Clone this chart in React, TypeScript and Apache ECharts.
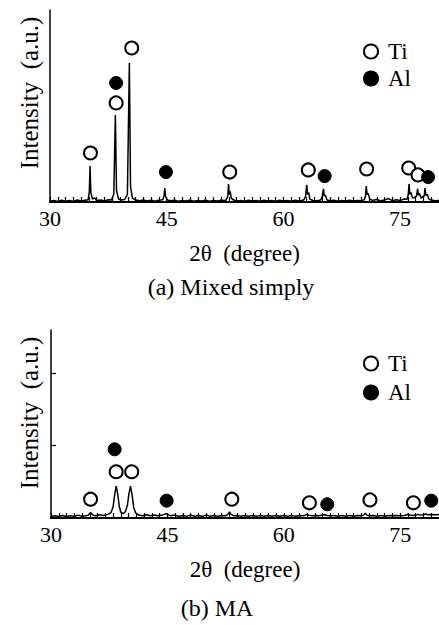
import React, { useEffect, useRef } from "react";
import * as echarts from "echarts";

const FONT = "Liberation Serif";

// x-axis labels and ticks (2θ, degree)
const xLabelValues = [30, 45, 60, 75];
const xTickValues = [
  30, 31, 32, 33, 34, 35, 36, 37, 38, 39, 40, 41, 42, 43, 44, 45, 46, 47, 48, 49, 50, 51, 52, 53, 54,
  55, 56, 57, 58, 59, 60, 61, 62, 63, 64, 65, 66, 67, 68, 69, 70, 71, 72, 73, 74, 75, 76, 77, 78, 79,
];
const xAxisName = "2θ  (degree)";
const yAxisName = "Intensity  (a.u.)";
const captionA = "(a) Mixed simply";
const captionB = "(b) MA";
const legendNames = ["Ti", "Al"];

// (a) Mixed simply — diffraction profile [2θ, intensity a.u. 0-100]
const profileA: number[][] = [
  [30, 0.4], [30.5, 0.8], [31, 0.3], [31.5, 0.9], [32, 0.4], [32.5, 0.8], [33, 0.3], [33.5, 1.0],
  [34, 0.5], [34.5, 0.9], [34.9, 1.2], [35.05, 5], [35.15, 18.8], [35.25, 5], [35.45, 1.5], [35.7, 2.2],
  [36, 0.8], [36.5, 1.0], [37, 0.5], [37.5, 1.2], [37.9, 1.0], [38.2, 4], [38.4, 45.3], [38.55, 6],
  [38.8, 1.6], [39.2, 1.0], [39.6, 1.3], [39.95, 4], [40.2, 72.4], [40.35, 8], [40.6, 2.0], [41, 1.0],
  [41.5, 0.6], [42, 1.0], [42.5, 0.5], [43, 0.9], [43.5, 0.4], [44, 0.9], [44.5, 1.2], [44.65, 3],
  [44.75, 7.3], [44.85, 3], [45.1, 1.0], [45.5, 0.6], [46, 0.9], [46.5, 0.4], [47, 0.8], [47.5, 0.5],
  [48, 0.9], [48.5, 0.4], [49, 0.8], [49.5, 0.5], [50, 0.9], [50.5, 0.4], [51, 0.8], [51.5, 0.5],
  [52, 0.9], [52.6, 0.8], [52.85, 3], [52.95, 9.4], [53.05, 4], [53.15, 5.5], [53.3, 2], [53.6, 1.0],
  [54, 0.5], [54.5, 0.8], [55, 0.4], [55.5, 0.9], [56, 0.5], [56.5, 0.8], [57, 0.4], [57.5, 0.9],
  [58, 0.5], [58.5, 0.8], [59, 0.4], [59.5, 0.9], [60, 0.5], [60.5, 0.8], [61, 0.4], [61.5, 0.9],
  [62, 0.5], [62.6, 1.0], [62.85, 3], [63.0, 8.9], [63.1, 4], [63.25, 5], [63.4, 1.5], [63.8, 0.8],
  [64.3, 0.6], [64.8, 1.0], [65.0, 3], [65.15, 6.8], [65.25, 3], [65.4, 3.5], [65.6, 1.0], [66, 0.6],
  [66.5, 0.9], [67, 0.4], [67.5, 0.8], [68, 0.5], [68.5, 0.9], [69, 0.5], [69.5, 0.8], [70, 0.6],
  [70.4, 1.2], [70.55, 3], [70.65, 8.3], [70.75, 4], [70.9, 4.5], [71.1, 1.5], [71.5, 0.8], [72, 1.4],
  [72.5, 0.6], [73, 1.0], [73.5, 1.8], [74, 0.7], [74.5, 1.2], [75, 0.8], [75.5, 1.6], [75.9, 1.4],
  [76.05, 4], [76.15, 9.4], [76.25, 4], [76.4, 5], [76.6, 2], [76.9, 2.5], [77.1, 3], [77.25, 6.8],
  [77.35, 3.5], [77.5, 4.5], [77.7, 2], [77.95, 3], [78.1, 3], [78.2, 7.3], [78.3, 3.5], [78.5, 4],
  [78.7, 1.5], [79, 1.0], [79.5, 0.6], [80, 0.8],
];
// (a) peak markers [2θ, intensity]
const tiMarkA: number[][] = [
  [35.2, 25.5], [38.5, 51.6], [40.5, 80.2], [53.1, 15.6], [63.2, 16.7], [70.7, 17.2], [76.1, 17.7], [77.3, 14.1],
];
const alMarkA: number[][] = [
  [38.5, 62.0], [44.9, 15.6], [65.3, 13.5], [78.6, 13.0],
];

// (b) MA — diffraction profile [2θ, intensity a.u.]
const profileB: number[][] = [
  [30, 0.02], [30.5, 0.03], [31, 0.02], [31.5, 0.035], [32, 0.02], [32.5, 0.03], [33, 0.02], [33.5, 0.04],
  [34, 0.025], [34.5, 0.03], [34.8, 0.04], [35.1, 0.075], [35.4, 0.04], [35.8, 0.03], [36.3, 0.045], [36.8, 0.035],
  [37.3, 0.05], [37.7, 0.07], [38.0, 0.15], [38.2, 0.32], [38.4, 0.44], [38.6, 0.33], [38.8, 0.16], [39.0, 0.08],
  [39.3, 0.06], [39.6, 0.09], [39.85, 0.18], [40.05, 0.34], [40.25, 0.44], [40.45, 0.32], [40.65, 0.15], [40.9, 0.07],
  [41.3, 0.04], [41.8, 0.03], [42.3, 0.045], [42.8, 0.03], [43.3, 0.04], [43.8, 0.03], [44.3, 0.04], [44.6, 0.05],
  [44.8, 0.06], [45.0, 0.05], [45.4, 0.03], [45.9, 0.04], [46.5, 0.025], [47, 0.035], [47.5, 0.025], [48, 0.04],
  [48.5, 0.025], [49, 0.035], [49.5, 0.025], [50, 0.04], [50.5, 0.025], [51, 0.035], [51.5, 0.025], [52, 0.035],
  [52.5, 0.03], [52.8, 0.05], [53.0, 0.085], [53.2, 0.05], [53.6, 0.03], [54, 0.035], [54.5, 0.025], [55, 0.035],
  [55.5, 0.025], [56, 0.035], [56.5, 0.025], [57, 0.035], [57.5, 0.025], [58, 0.035], [58.5, 0.025], [59, 0.035],
  [59.5, 0.025], [60, 0.035], [60.5, 0.025], [61, 0.035], [61.5, 0.025], [62, 0.035], [62.5, 0.03], [62.8, 0.04],
  [63.0, 0.055], [63.2, 0.04], [63.6, 0.03], [64, 0.035], [64.5, 0.03], [65, 0.04], [65.3, 0.045], [65.6, 0.035],
  [66, 0.03], [66.5, 0.035], [67, 0.025], [67.5, 0.035], [68, 0.025], [68.5, 0.035], [69, 0.025], [69.5, 0.035],
  [70, 0.03], [70.3, 0.04], [70.5, 0.065], [70.7, 0.04], [71, 0.03], [71.5, 0.035], [72, 0.025], [72.5, 0.035],
  [73, 0.025], [73.5, 0.035], [74, 0.03], [74.5, 0.035], [75, 0.03], [75.5, 0.035], [75.8, 0.04], [76.0, 0.055],
  [76.2, 0.04], [76.6, 0.035], [77, 0.04], [77.3, 0.05], [77.6, 0.04], [78, 0.045], [78.3, 0.055], [78.6, 0.045],
  [79, 0.05], [79.5, 0.045], [80, 0.05],
];
const tiMarkB: number[][] = [
  [35.1, 0.26], [38.4, 0.64], [40.4, 0.64], [53.3, 0.26], [63.3, 0.21], [71.1, 0.25], [76.7, 0.21],
];
const alMarkB: number[][] = [
  [38.2, 0.95], [44.9, 0.24], [65.6, 0.19], [79.0, 0.24],
];
const yTickValuesB = [1, 2];

export default function App() {
  const ref = useRef<HTMLDivElement>(null);
  useEffect(() => {
    if (!ref.current) return;
    const chart = echarts.init(ref.current, null, { renderer: "svg" });
    const textBase = { color: "#000", fontFamily: FONT };
    const mkX = (gridIndex: number) => ({
      type: "value",
      gridIndex,
      min: 30,
      max: 80,
      interval: 1,
      axisLine: { show: true, onZero: false, lineStyle: { color: "#000", width: 2 } },
      axisTick: {
        show: true, inside: true, length: 5, customValues: xTickValues,
        lineStyle: { color: "#000", width: 1.2 },
      },
      axisLabel: { customValues: xLabelValues, fontSize: 22, margin: 5, ...textBase },
      splitLine: { show: false },
      name: xAxisName,
      nameLocation: "middle",
      nameGap: 40,
      nameTextStyle: { fontSize: 23, ...textBase },
    });
    const tiStyle = { color: "#fff", borderColor: "#000", borderWidth: 2, opacity: 1 };
    const alStyle = { color: "#000", borderColor: "#000", borderWidth: 1, opacity: 1 };
    const mkLegend = (top: number, gap: number) => ({
      orient: "vertical",
      left: 363,
      top,
      padding: 0,
      itemWidth: 14,
      itemHeight: 14,
      itemGap: gap,
      selectedMode: false,
      data: legendNames,
      textStyle: { fontSize: 23, padding: [0, 0, 0, 5], ...textBase },
    });
    const mkText = (text: string, x: number, y: number, size: number, rotation = 0) => ({
      type: "text",
      x,
      y,
      rotation,
      style: {
        text,
        fill: "#000",
        fontSize: size,
        fontFamily: FONT,
        align: "center",
        verticalAlign: "middle",
        textAlign: "center",
        textVerticalAlign: "middle",
      },
    });
    chart.setOption({
      animation: false,
      backgroundColor: "#fff",
      grid: [
        { left: 50, right: 0, top: 10, height: 192 },
        { left: 51, right: 0, top: 330, height: 188 },
      ],
      xAxis: [mkX(0), mkX(1)],
      yAxis: [
        {
          type: "value",
          gridIndex: 0,
          min: 0,
          max: 100,
          axisLine: { show: true, lineStyle: { color: "#000", width: 1.5 } },
          axisTick: { show: false },
          axisLabel: { show: false },
          splitLine: { show: false },
        },
        {
          type: "value",
          gridIndex: 1,
          min: 0,
          max: 2.6,
          axisLine: { show: true, lineStyle: { color: "#000", width: 1.5 } },
          axisTick: { show: true, inside: true, length: 5, customValues: yTickValuesB, lineStyle: { color: "#000", width: 1.2 } },
          axisLabel: { show: false },
          splitLine: { show: false },
        },
      ],
      legend: [mkLegend(40, 4), mkLegend(352, 6)],
      graphic: [
        mkText(captionA, 231, 287, 24),
        mkText(captionB, 217, 608, 24),
        mkText(yAxisName, 29, 93, 25, Math.PI / 2),
        mkText(yAxisName, 29, 413, 25, Math.PI / 2),
      ],
      series: [
        {
          name: "profile (a)", type: "line", xAxisIndex: 0, yAxisIndex: 0, data: profileA,
          showSymbol: false, symbol: "none", lineStyle: { color: "#000", width: 1.5 }, z: 2,
        },
        {
          name: "Ti", type: "scatter", xAxisIndex: 0, yAxisIndex: 0, data: tiMarkA,
          symbol: "circle", symbolSize: 13, itemStyle: tiStyle, z: 3,
        },
        {
          name: "Al", type: "scatter", xAxisIndex: 0, yAxisIndex: 0, data: alMarkA,
          symbol: "circle", symbolSize: 13, itemStyle: alStyle, z: 3,
        },
        {
          name: "profile (b)", type: "line", xAxisIndex: 1, yAxisIndex: 1, data: profileB,
          showSymbol: false, symbol: "none", lineStyle: { color: "#000", width: 1.5 }, z: 2,
        },
        {
          name: "Ti", type: "scatter", xAxisIndex: 1, yAxisIndex: 1, data: tiMarkB,
          symbol: "circle", symbolSize: 13, itemStyle: tiStyle, z: 3,
        },
        {
          name: "Al", type: "scatter", xAxisIndex: 1, yAxisIndex: 1, data: alMarkB,
          symbol: "circle", symbolSize: 13, itemStyle: alStyle, z: 3,
        },
      ],
    });
    return () => chart.dispose();
  }, []);
  return (
    <div
      ref={ref}
      style={{ position: "fixed", left: 0, top: 0, width: 439, height: 625, background: "#fff" }}
    />
  );
}
